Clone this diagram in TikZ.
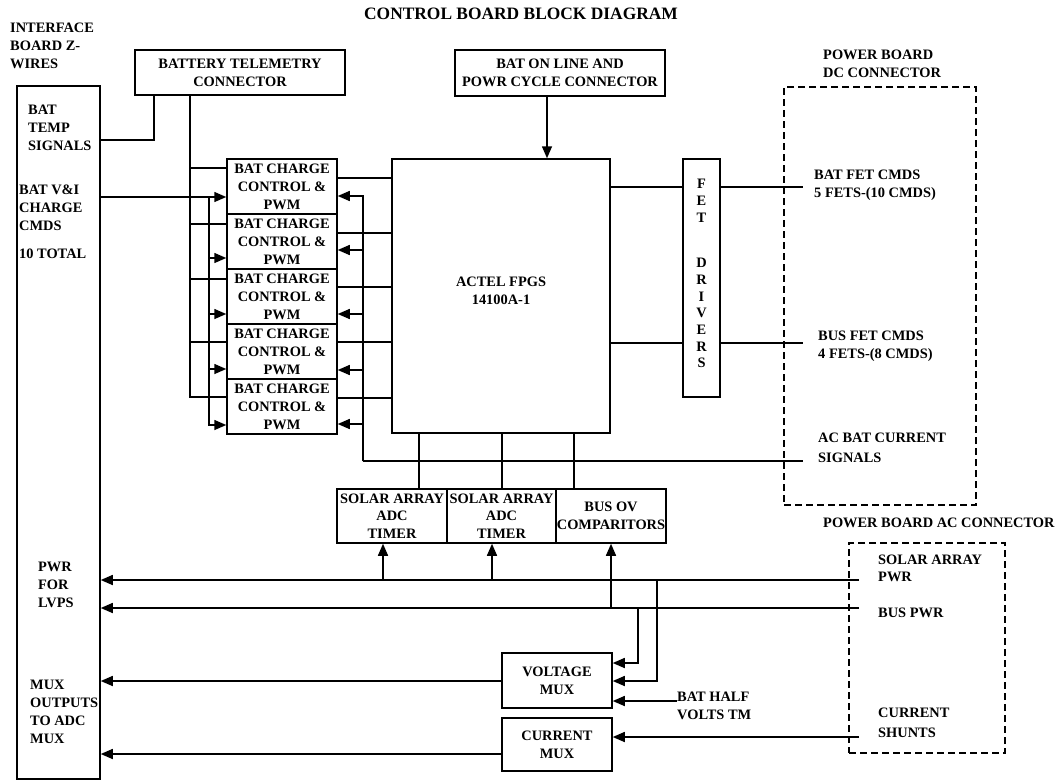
\documentclass[tikz,border=0pt]{standalone}
\usepackage{fontspec}
\setmainfont{Liberation Serif}
\usetikzlibrary{arrows.meta,calc}
\begin{document}
\begin{tikzpicture}[x=1pt,y=-1pt,
  every node/.style={inner sep=0pt, font=\bfseries\fontsize{14.4}{18}\selectfont},
  box/.style={draw, line width=1.5pt, align=center},
  dbox/.style={draw, line width=1.3pt, dash pattern=on 7pt off 4pt},
  lbl/.style={anchor=north west, align=left},
  wire/.style={line width=1.5pt},
  arr/.style={wire, -{Triangle[length=12pt,width=10pt]}},
]
\useasboundingbox (0,0) rectangle (1056,782);

% title
\node (title) at (521,14) [font=\bfseries\fontsize{17.4}{20}\selectfont] {CONTROL BOARD BLOCK DIAGRAM};

% interface board
\node[lbl] (iftitle) at (10,23) {INTERFACE\\BOARD Z-\\WIRES};
\node[box, minimum width=83pt, minimum height=693pt] (ifb) at (58.5,432.5) {};
\node[lbl] (temp) at (28,105) {BAT\\TEMP\\SIGNALS};
\node[lbl] (vi) at (19,185) {BAT V\&I\\CHARGE\\CMDS};
\node[lbl] (tot) at (19,249) {10 TOTAL};
\node[lbl] (lvps) at (38,562) {PWR\\FOR\\LVPS};
\node[lbl] (muxo) at (30,680) {MUX\\OUTPUTS\\TO ADC\\MUX};

% top connectors
\node[box, minimum width=210pt, minimum height=45pt] (btc) at (240,72.5) {BATTERY TELEMETRY\\CONNECTOR};
\node[box, minimum width=210pt, minimum height=46pt] (bol) at (560,73) {BAT ON LINE AND\\POWR CYCLE CONNECTOR};

% charge control boxes
\foreach \i in {1,...,5}
  \node[box, minimum width=110pt, minimum height=55pt] (cb\i) at (282,{131.5+55*\i}) {BAT CHARGE\\CONTROL \&\\PWM};

% FPGA and FET drivers
\node[box, minimum width=218pt, minimum height=274pt] (fpga) at (501,296) {};
\node[align=center] (fpgal) at (501,291) {ACTEL FPGS\\14100A-1};
\node[box, minimum width=37pt, minimum height=238pt] (fet) at (701.5,278) {};
\node[anchor=north, align=center, font=\bfseries\fontsize{14.4}{16.7}\selectfont] (fetl) at (701.5,179) {F\\E\\T\\[29pt]D\\R\\I\\V\\E\\R\\S};

% power board DC connector
\node[dbox, minimum width=192pt, minimum height=418pt] (dc) at (880,296) {};
\node[lbl] (dct) at (823,50) {POWER BOARD\\DC CONNECTOR};
\node[lbl] (batfet) at (814,170) {BAT FET CMDS\\5 FETS-(10 CMDS)};
\node[lbl] (busfet) at (818,331) {BUS FET CMDS\\4 FETS-(8 CMDS)};
\node[lbl, font=\bfseries\fontsize{14.4}{19.5}\selectfont] (acbat) at (818,433) {AC BAT CURRENT\\SIGNALS};

% solar array / bus OV
\node[box, minimum width=110pt, minimum height=54pt, font=\bfseries\fontsize{14.4}{17.5}\selectfont] (sa1) at (392,516) {SOLAR ARRAY\\ADC\\TIMER};
\node[box, minimum width=109pt, minimum height=54pt, font=\bfseries\fontsize{14.4}{17.5}\selectfont] (sa2) at (501.5,516) {SOLAR ARRAY\\ADC\\TIMER};
\node[box, minimum width=110pt, minimum height=54pt] (bov) at (611,516) {BUS OV\\COMPARITORS};

% power board AC connector
\node[dbox, minimum width=156pt, minimum height=210pt] (ac) at (927,648) {};
\node[lbl] (act) at (823,518) {POWER BOARD AC CONNECTOR};
\node[lbl, font=\bfseries\fontsize{14.4}{17}\selectfont] (sapwr) at (878,555) {SOLAR ARRAY\\PWR};
\node[lbl] (buspwr) at (878,608) {BUS PWR};
\node[lbl, font=\bfseries\fontsize{14.4}{19.5}\selectfont] (shunt) at (878,708) {CURRENT\\SHUNTS};

% muxes
\node[box, minimum width=110pt, minimum height=55pt] (vm) at (557,680.5) {VOLTAGE\\MUX};
\node[box, minimum width=110pt, minimum height=53pt] (cm) at (557,744.5) {CURRENT\\MUX};
\node[lbl] (half) at (677,692) {BAT HALF\\VOLTS TM};

% free ends
\coordinate (dcA) at (803,187);
\coordinate (dcB) at (803,343);
\coordinate (dcC) at (803,461);
\coordinate (acA) at (859,580);
\coordinate (acB) at (859,608);
\coordinate (acC) at (859,737);
\coordinate (vij) at (209,197);
\coordinate (acj) at (363,461);

% battery temp
\draw[wire] (ifb.east |- 0,140) -| (btc.south -| 154,0);
% telemetry bus
\foreach \n/\y in {1/168,2/224,3/279,4/342,5/397}
  \draw[wire] (btc.south -| 190,0) |- (cb\n.west |- 0,\y);
% V&I charge commands
\draw[arr] (ifb.east |- vij) -- (cb1.west |- vij);
\foreach \n/\y in {2/258,3/314,4/369,5/425}
  \draw[arr] (vij) |- (cb\n.west |- 0,\y);
% FPGA to charge boxes
\foreach \n/\y in {1/178,2/233,3/287,4/342,5/398}
  \draw[wire] (fpga.west |- 0,\y) -- (cb\n.east |- 0,\y);
% AC bat current signals
\foreach \n/\y in {1/196,2/250,3/314,4/370,5/424}
  \draw[arr] (acj) |- (cb\n.east |- 0,\y);
\draw[wire] (acj) -- (dcC);
% bat on line
\draw[arr] (bol.south -| 547,0) -- (fpga.north -| 547,0);
% FET drivers
\draw[wire] (fpga.east |- dcA) -- (fet.west |- dcA);
\draw[wire] (fet.east |- dcA) -- (dcA);
\draw[wire] (fpga.east |- dcB) -- (fet.west |- dcB);
\draw[wire] (fet.east |- dcB) -- (dcB);
% FPGA to solar/bus OV
\draw[wire] (fpga.south -| 419,0) -- (sa1.north -| 419,0);
\draw[wire] (fpga.south -| 502,0) -- (sa2.north -| 502,0);
\draw[wire] (fpga.south -| 574,0) -- (bov.north -| 574,0);
% solar array power
\draw[arr] (acA) -- (ifb.east |- acA);
\draw[arr] (acA -| 383,0) -- (sa1.south -| 383,0);
\draw[arr] (acA -| 492,0) -- (sa2.south -| 492,0);
\draw[arr] (acA -| 657,0) |- (vm.east |- 0,681);
% bus power
\draw[arr] (acB) -- (ifb.east |- acB);
\draw[arr] (acB -| 611,0) -- (bov.south -| 611,0);
\draw[arr] (acB -| 638,0) |- (vm.east |- 0,663);
% bat half volts
\draw[arr] (half.west |- 0,701) -- (vm.east |- 0,701);
% current shunts
\draw[arr] (acC) -- (cm.east |- acC);
% mux outputs
\draw[arr] (vm.west |- 0,681) -- (ifb.east |- 0,681);
\draw[arr] (cm.west |- 0,754) -- (ifb.east |- 0,754);
\end{tikzpicture}
\end{document}
